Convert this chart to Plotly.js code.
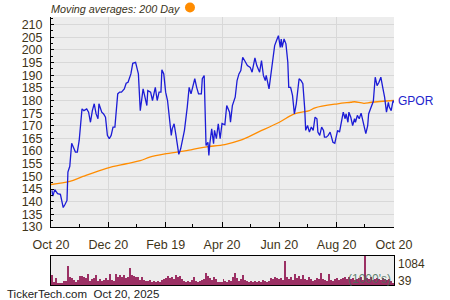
<!DOCTYPE html>
<html>
<head>
<meta charset="utf-8">
<script src="https://cdn.plot.ly/plotly-3.0.1.min.js"></script>
<style>
html,body{margin:0;padding:0;background:#fff;}
#chart{width:450px;height:300px;}
</style>
</head>
<body>
<div id="chart"></div>
<script>
// ---- data ----
const ticker = "GPOR";
const priceDates = ["2024-10-21","2024-10-22","2024-10-24","2024-10-27","2024-10-30","2024-10-31","2024-11-02","2024-11-04","2024-11-06","2024-11-07","2024-11-08","2024-11-09","2024-11-11","2024-11-13","2024-11-15","2024-11-17","2024-11-19","2024-11-22","2024-11-24","2024-11-27","2024-11-29","2024-12-01","2024-12-03","2024-12-05","2024-12-07","2024-12-09","2024-12-10","2024-12-13","2024-12-15","2024-12-17","2024-12-19","2024-12-21","2024-12-23","2024-12-25","2024-12-27","2024-12-30","2025-01-01","2025-01-03","2025-01-06","2025-01-08","2025-01-10","2025-01-13","2025-01-15","2025-01-18","2025-01-21","2025-01-23","2025-01-26","2025-01-28","2025-01-30","2025-01-31","2025-02-03","2025-02-05","2025-02-08","2025-02-10","2025-02-12","2025-02-14","2025-02-15","2025-02-17","2025-02-19","2025-02-21","2025-02-23","2025-02-25","2025-02-26","2025-02-28","2025-03-02","2025-03-04","2025-03-05","2025-03-07","2025-03-10","2025-03-11","2025-03-14","2025-03-16","2025-03-18","2025-03-20","2025-03-22","2025-03-24","2025-03-26","2025-03-29","2025-03-30","2025-04-01","2025-04-02","2025-04-03","2025-04-05","2025-04-06","2025-04-07","2025-04-09","2025-04-11","2025-04-12","2025-04-14","2025-04-16","2025-04-18","2025-04-20","2025-04-23","2025-04-25","2025-04-28","2025-04-29","2025-05-01","2025-05-04","2025-05-06","2025-05-08","2025-05-10","2025-05-12","2025-05-14","2025-05-17","2025-05-20","2025-05-22","2025-05-23","2025-05-25","2025-05-27","2025-05-30","2025-06-01","2025-06-03","2025-06-05","2025-06-06","2025-06-09","2025-06-12","2025-06-13","2025-06-15","2025-06-17","2025-06-19","2025-06-21","2025-06-22","2025-06-23","2025-06-25","2025-06-27","2025-06-29","2025-06-30","2025-07-02","2025-07-04","2025-07-06","2025-07-08","2025-07-11","2025-07-13","2025-07-15","2025-07-17","2025-07-18","2025-07-20","2025-07-22","2025-07-24","2025-07-26","2025-07-28","2025-07-30","2025-07-31","2025-08-02","2025-08-04","2025-08-06","2025-08-07","2025-08-09","2025-08-11","2025-08-13","2025-08-14","2025-08-16","2025-08-18","2025-08-20","2025-08-21","2025-08-23","2025-08-25","2025-08-27","2025-08-29","2025-08-30","2025-09-01","2025-09-02","2025-09-04","2025-09-06","2025-09-08","2025-09-09","2025-09-11","2025-09-13","2025-09-15","2025-09-16","2025-09-18","2025-09-20","2025-09-22","2025-09-23","2025-09-25","2025-09-27","2025-09-28","2025-09-30","2025-10-02","2025-10-04","2025-10-06","2025-10-08","2025-10-10","2025-10-12","2025-10-14","2025-10-15","2025-10-17","2025-10-19","2025-10-20"];
const priceValues = [144.5,142.2,144.8,143.2,142.9,141.3,137.7,139.0,140.5,151.7,153.6,154.0,163.1,161.6,159.6,159.6,164.2,176.7,176.0,176.7,175.4,171.4,176.0,178.7,174.7,172.8,178.7,175.4,174.7,173.4,166.2,164.9,166.2,169.5,169.5,182.6,183.3,183.3,184.6,186.8,187.2,190.5,194.7,195.1,190.5,176.0,184.6,181.3,178.0,183.9,183.3,180.0,185.2,180.0,183.3,183.3,192.1,190.5,183.3,180.0,171.4,166.2,168.8,170.8,166.2,160.3,158.7,160.9,165.5,168.2,177.4,185.2,182.6,185.9,188.6,185.2,182.6,182.6,188.6,189.9,177.4,162.2,163.5,158.3,162.9,168.8,162.9,168.2,164.9,170.8,164.9,170.9,170.4,178.0,175.4,171.4,178.0,181.3,187.9,190.5,191.8,197.1,195.8,193.8,193.1,191.2,193.1,196.8,193.8,191.2,195.8,189.9,187.9,189.9,184.6,193.1,196.5,201.7,203.7,205.6,201.0,204.3,201.0,204.3,202.4,195.1,185.2,185.2,182.0,174.7,178.7,188.6,187.9,186.6,176.7,168.2,170.1,167.5,169.5,168.2,173.4,172.8,167.5,166.2,169.5,168.2,165.5,165.5,166.2,167.5,166.2,163.5,163.1,167.5,168.2,167.5,172.1,175.4,172.8,174.7,171.4,175.4,173.4,170.1,172.8,171.4,174.1,172.8,175.0,173.4,169.5,166.9,170.1,174.7,176.7,178.9,179.7,189.2,185.9,187.2,189.2,185.2,181.3,175.4,179.3,177.4,176.0,180.0,179.2];

const maDates = ["2024-10-20","2024-11-09","2024-11-23","2024-12-18","2025-01-08","2025-01-23","2025-02-02","2025-02-20","2025-03-18","2025-04-02","2025-04-23","2025-05-09","2025-05-29","2025-06-20","2025-07-06","2025-07-22","2025-07-28","2025-08-21","2025-09-04","2025-09-08","2025-09-18","2025-09-26","2025-10-20"];
const maValues = [146.8,148.0,150.0,153.2,155.0,156.2,157.6,159.0,160.5,161.6,162.6,164.2,167.6,171.4,174.7,176.0,177.1,178.7,179.3,179.5,178.9,179.3,180.0];

const volumeValues = [366,130,260,90,65,90,157,157,718,287,261,196,130,170,326,353,287,261,418,157,235,261,392,157,235,157,196,261,183,418,196,157,418,287,392,287,366,261,287,627,392,326,287,313,196,287,196,157,157,183,130,157,130,157,104,183,235,261,326,261,287,235,392,287,326,235,157,130,157,130,196,287,157,130,157,196,235,457,326,261,196,287,235,130,130,104,235,157,
130,196,157,287,457,261,157,235,392,196,157,130,157,130,157,130,157,130,196,157,130,157,261,235,287,261,235,261,196,888,287,235,287,196,418,261,326,235,366,235,196,287,235,157,196,261,235,457,235,196,157,418,196,157,235,261,196,235,261,287,235,287,235,261,196,235,261,287,196,1084,261,235,287,196,235,261,235,196,261,235,196,235,157,65];
const volumeMax = 1084;
const volumeMin = 39;

const xTickVals = ["2024-10-20","2024-12-20","2025-02-19","2025-04-20","2025-06-20","2025-08-20","2025-10-20"];
const xTickText = ["Oct 20","Dec 20","Feb 19","Apr 20","Jun 20","Aug 20","Oct 20"];
const xMinorVals = ["2024-11-19","2025-01-19","2025-03-20","2025-05-20","2025-07-20","2025-09-19"];

const titleText = "Moving averages: 200 Day";
const footerText = "TickerTech.com  Oct 20, 2025";

// ---- chart ----
const labelColor = "#3f3519";
const fontFam = "Liberation Sans, Arial, sans-serif";
const volIdx = volumeValues.map((v, i) => i);

const traces = [
  {x: maDates, y: maValues, type: "scatter", mode: "lines",
   line: {color: "#ff8c00", width: 1.3, shape: "spline"}, xaxis: "x", yaxis: "y", hoverinfo: "skip"},
  {x: priceDates, y: priceValues, type: "scatter", mode: "lines",
   line: {color: "#1c1cd6", width: 1.3}, xaxis: "x", yaxis: "y", hoverinfo: "skip"},
  {x: volIdx, y: volumeValues, type: "bar", marker: {color: "#9b3064", line: {width: 0}},
   xaxis: "x2", yaxis: "y2", hoverinfo: "skip"}
];

const layout = {
  width: 450, height: 300,
  margin: {l: 51, r: 56, t: 17, b: 15, pad: 0},
  paper_bgcolor: "#ffffff",
  plot_bgcolor: "#ededed",
  showlegend: false,
  bargap: 0,
  font: {family: fontFam, size: 12.5, color: labelColor},
  xaxis: {
    type: "date", domain: [0, 1], anchor: "y",
    range: ["2024-10-20", "2025-10-20"],
    tickmode: "array", tickvals: xTickVals, ticktext: xTickText,
    ticks: "inside", ticklen: 5, tickcolor: "#000", tickwidth: 1,
    showline: true, linecolor: "#000", linewidth: 1,
    showgrid: true, gridcolor: "#d8d8d8", gridwidth: 1,
    zeroline: false, ticklabelstandoff: 6,
    tickfont: {family: fontFam, size: 12.5, color: labelColor},
    minor: {tickmode: "array", tickvals: xMinorVals, ticks: "inside", ticklen: 3, tickcolor: "#000", showgrid: false}
  },
  yaxis: {
    domain: [0.2164, 1], anchor: "x",
    range: [130, 213], tick0: 130, dtick: 5,
    ticks: "inside", ticklen: 3, tickcolor: "#000",
    showline: true, linecolor: "#000", linewidth: 1,
    showgrid: true, gridcolor: "#d8d8d8", gridwidth: 1,
    zeroline: false, ticklabelstandoff: 5,
    tickfont: {family: fontFam, size: 12.5, color: labelColor},
    minor: {dtick: 2.5, tick0: 130, ticks: "inside", ticklen: 2, tickcolor: "#000", showgrid: false}
  },
  xaxis2: {
    domain: [0, 1], anchor: "y2",
    range: [-0.5, volumeValues.length - 0.5],
    showticklabels: false, ticks: "", showgrid: false, zeroline: false,
    showline: true, mirror: true, linecolor: "#000", linewidth: 1.2
  },
  yaxis2: {
    domain: [0, 0.108], anchor: "x2",
    range: [0, volumeMax],
    showticklabels: false, ticks: "", showgrid: false, zeroline: false,
    showline: true, mirror: true, linecolor: "#000", linewidth: 1.2
  },
  shapes: [
    {type: "circle", xref: "paper", yref: "paper", xsizemode: "pixel", ysizemode: "pixel",
     xanchor: 0.4052, yanchor: 1.0354, x0: -5, x1: 5, y0: -5, y1: 5,
     fillcolor: "#ff8c00", line: {width: 0}}
  ],
  annotations: [
    {text: "<i>" + titleText + "</i>", xref: "paper", yref: "paper", x: -0.005, y: 1.031,
     xanchor: "left", yanchor: "middle", showarrow: false,
     font: {family: fontFam, size: 10.8, color: "#3a3320"}},
    {text: ticker, xref: "paper", yref: "y", x: 1.007, y: priceValues[priceValues.length - 1] + 0.8,
     xanchor: "left", yanchor: "middle", showarrow: false,
     font: {family: fontFam, size: 12, color: "#2323cc"}},
    {text: String(volumeMax), xref: "paper", yref: "paper", x: 1.007, y: 0.078,
     xanchor: "left", yanchor: "middle", showarrow: false,
     font: {family: fontFam, size: 12, color: labelColor}},
    {text: String(volumeMin), xref: "paper", yref: "paper", x: 1.007, y: 0.016,
     xanchor: "left", yanchor: "middle", showarrow: false,
     font: {family: fontFam, size: 12, color: labelColor}},
    {text: "(1000's)", xref: "paper", yref: "paper", x: 0.998, y: 0.022,
     xanchor: "right", yanchor: "middle", showarrow: false,
     font: {family: fontFam, size: 12, color: "rgba(70,110,90,0.85)"}},
    {text: footerText.replace(/ {2}/, "&nbsp; "), xref: "paper", yref: "paper", x: -0.133, y: -0.035,
     xanchor: "left", yanchor: "middle", showarrow: false,
     font: {family: fontFam, size: 11.5, color: "#222222"}}
  ]
};

Plotly.newPlot("chart", traces, layout, {staticPlot: true, displayModeBar: false});
</script>
</body>
</html>
